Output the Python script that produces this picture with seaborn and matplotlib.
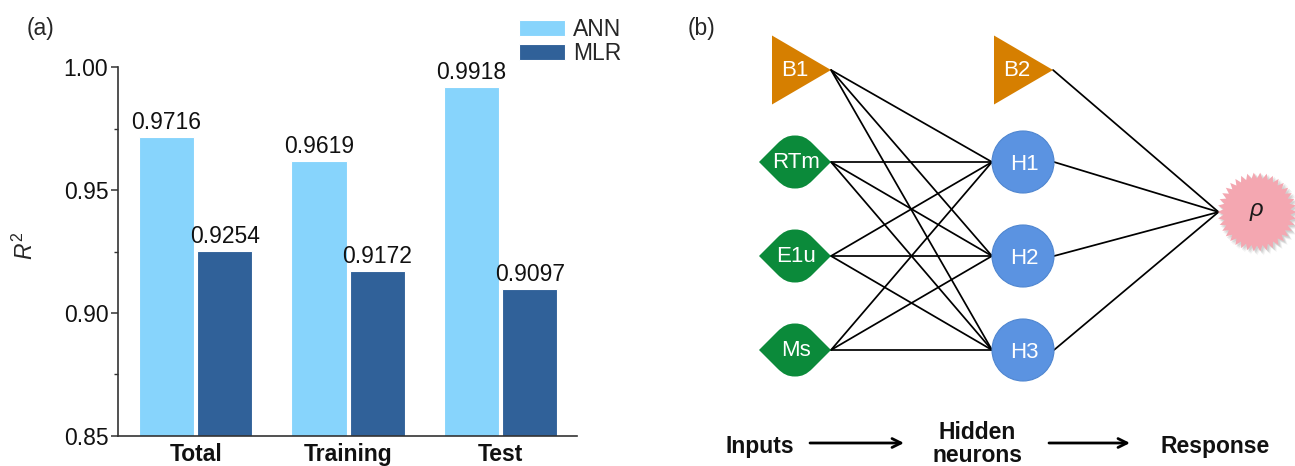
import numpy as np
import pandas as pd
import matplotlib
matplotlib.use("Agg")
import matplotlib.pyplot as plt
from matplotlib.path import Path
from matplotlib.patches import PathPatch, Circle, Polygon
from matplotlib.ticker import MultipleLocator, FormatStrFormatter
import seaborn as sns

# ---- panel (a): coefficient of determination per data subset ----
subsets = ["Total", "Training", "Test"]
models = ["ANN", "MLR"]
ann_r2 = [0.9716, 0.9619, 0.9918]
mlr_r2 = [0.9254, 0.9172, 0.9097]
y_ticks = [0.85, 0.90, 0.95, 1.00]

# ---- panel (b): network topology ----
input_nodes = ["RTm", "E1u", "Ms"]
hidden_nodes = ["H1", "H2", "H3"]
bias_nodes = ["B1", "B2"]
output_node = r"$\rho$"
stage_labels = ["Inputs", "Hidden\nneurons", "Response"]

ANN_COLOR = "#87D4FC"
MLR_COLOR = "#306199"
BIAS_COLOR = "#D67F00"
INPUT_COLOR = "#0B8A3A"
HIDDEN_COLOR = "#5B93E1"
OUTPUT_COLOR = "#F4A7B1"
FS = 16.5

sns.set_theme(style="ticks")
plt.rcParams["font.family"] = ["Liberation Sans", "DejaVu Sans"]
plt.rcParams["mathtext.fontset"] = "custom"
plt.rcParams["mathtext.rm"] = "Liberation Sans"
plt.rcParams["mathtext.it"] = "Liberation Sans:italic"

W, H = 1295, 466
fig = plt.figure(figsize=(W / 100, H / 100), dpi=100)
fig.patch.set_facecolor("white")

# ------------------------------------------------------------------ (a)
ax = fig.add_axes([118 / W, 30 / H, (577 - 118) / W, (436 - 67) / H])
df = pd.DataFrame({
    "subset": subsets * 2,
    "model": [models[0]] * len(subsets) + [models[1]] * len(subsets),
    "r2": ann_r2 + mlr_r2,
})
sns.barplot(data=df, x="subset", y="r2", hue="model", order=subsets,
            hue_order=models, palette=[ANN_COLOR, MLR_COLOR], width=0.763,
            gap=0.05, edgecolor="white", linewidth=0.8, saturation=1,
            errorbar=None, ax=ax)

for cont in ax.containers:
    ax.bar_label(cont, fmt="%.4f", padding=2, fontsize=FS, color="#111111")

ax.set_ylim(y_ticks[0], y_ticks[-1])
ax.set_xlim(-0.509, 2.50)
ax.set_yticks(y_ticks)
ax.yaxis.set_major_formatter(FormatStrFormatter("%.2f"))
ax.yaxis.set_minor_locator(MultipleLocator(0.025))
ax.tick_params(axis="y", which="major", length=5, width=1.1, pad=2,
               labelsize=FS, color="#333333", labelcolor="#111111")
ax.tick_params(axis="y", which="minor", length=3, width=1.0, color="#333333")
ax.tick_params(axis="x", length=0, pad=5, labelsize=FS, labelcolor="#111111")
ax.set_xticks(range(len(subsets)))
ax.set_xticklabels(subsets, fontweight="bold")
ax.set_xlabel("")
ax.set_ylabel(r"$R^2$", fontsize=FS)
ax.yaxis.set_label_coords(-0.175, 0.516)
for s in ["left", "bottom"]:
    ax.spines[s].set_linewidth(1.2)
    ax.spines[s].set_color("#333333")
sns.despine(ax=ax)

handles, labels = ax.get_legend_handles_labels()
ax.legend(handles, labels, loc="upper left",
          bbox_to_anchor=(503 / W, 1 - 2 / H), bbox_transform=fig.transFigure,
          frameon=False, fontsize=FS, handlelength=2.0, handleheight=0.72,
          labelspacing=0.05, handletextpad=0.35, borderpad=0.2)

fig.text(27 / W, 1 - 28 / H, "(a)", fontsize=FS, va="center", ha="left")
fig.text(688 / W, 1 - 28 / H, "(b)", fontsize=FS, va="center", ha="left")

# ------------------------------------------------------------------ (b)
ax2 = fig.add_axes([680 / W, 0, (W - 680) / W, 1])
ax2.set_xlim(680, W)
ax2.set_ylim(H, 0)
ax2.axis("off")

# layout of the drawing (pixel-like units)
col_in, col_hid, col_out = 795, 1023, 1257
row_ys = [162, 256, 350]
bias_y = 70
out_y = 212
leaf_hw, leaf_hh = 36, 26.5
hid_r = 31
tri_w, tri_hh = 59, 34.5
star_r_out, star_r_in, n_spikes = 39.5, 33.5, 38

in_tip = col_in + leaf_hw
hid_left, hid_right = col_hid - hid_r, col_hid + hid_r
out_left = col_out - star_r_out + 1
b1_tip = in_tip
b2_tip = hid_right - 1

line_kw = dict(color="black", lw=1.25, zorder=1, solid_capstyle="round")

# input -> hidden
for yi in row_ys:
    for yh in row_ys:
        ax2.plot([in_tip, hid_left], [yi, yh], **line_kw)
# bias 1 -> hidden
for yh in row_ys:
    ax2.plot([b1_tip, hid_left], [bias_y, yh], **line_kw)
# hidden -> output
for yh in row_ys:
    ax2.plot([hid_right, out_left], [yh, out_y], **line_kw)
# bias 2 -> output
ax2.plot([b2_tip, out_left], [bias_y, out_y], **line_kw)


def leaf_path(cx, cy, hw, hh):
    # rounded rhombus: straight 45-degree flanks at the tips, domed top/bottom
    ex, ey = 0.5, 0.68
    c1x, c1y = ex - 0.5 * 0.35, ey + 0.68 * 0.35
    verts = [
        (-1.0, 0.0), (-ex, -ey),
        (-c1x, -c1y), (-0.2, -1.0), (0.0, -1.0),
        (0.2, -1.0), (c1x, -c1y), (ex, -ey),
        (1.0, 0.0), (ex, ey),
        (c1x, c1y), (0.2, 1.0), (0.0, 1.0),
        (-0.2, 1.0), (-c1x, c1y), (-ex, ey),
        (-1.0, 0.0),
    ]
    codes = [Path.MOVETO, Path.LINETO,
             Path.CURVE4, Path.CURVE4, Path.CURVE4,
             Path.CURVE4, Path.CURVE4, Path.CURVE4,
             Path.LINETO, Path.LINETO,
             Path.CURVE4, Path.CURVE4, Path.CURVE4,
             Path.CURVE4, Path.CURVE4, Path.CURVE4,
             Path.CLOSEPOLY]
    v = [(cx + x * hw, cy + y * hh) for x, y in verts]
    return Path(v, codes)


node_txt = dict(color="white", fontsize=16, ha="center", va="center", zorder=4)

for name, yi in zip(input_nodes, row_ys):
    ax2.add_patch(PathPatch(leaf_path(col_in, yi, leaf_hw, leaf_hh),
                            facecolor=INPUT_COLOR, edgecolor="none", zorder=3))
    ax2.text(col_in + 1, yi + 1, name, **node_txt)

for name, yh in zip(hidden_nodes, row_ys):
    ax2.add_patch(Circle((col_hid, yh), hid_r, facecolor=HIDDEN_COLOR,
                         edgecolor="#4F86D0", lw=0.8, zorder=3))
    ax2.text(col_hid + 1, yh + 2, name, **node_txt)

for name, tip in zip(bias_nodes, [b1_tip, b2_tip]):
    left = tip - tri_w
    ax2.add_patch(Polygon([(left, bias_y - tri_hh), (left, bias_y + tri_hh),
                           (tip, bias_y)], closed=True,
                          facecolor=BIAS_COLOR, edgecolor="none", zorder=3))
    ax2.text(left + tri_w / 3 + 3, bias_y, name, **node_txt)

# output node: spiky star with a soft shadow
ang = np.linspace(0, 2 * np.pi, 2 * n_spikes, endpoint=False)
rad = np.where(np.arange(2 * n_spikes) % 2 == 0, star_r_out, star_r_in)
for dx, dy, a in [(3.5, 3.5, 0.10), (2.5, 2.5, 0.15), (1.5, 1.5, 0.2)]:
    ax2.add_patch(Polygon(np.c_[col_out + dx + (rad + 0.5) * np.cos(ang),
                                out_y + dy + (rad + 0.5) * np.sin(ang)],
                          closed=True, facecolor="#888888", alpha=a,
                          edgecolor="none", zorder=2))
ax2.add_patch(Polygon(np.c_[col_out + rad * np.cos(ang), out_y + rad * np.sin(ang)],
                      closed=True, facecolor=OUTPUT_COLOR, edgecolor="none",
                      zorder=3))
ax2.text(col_out, out_y, output_node, fontsize=17, color="#1a1a1a",
         ha="center", va="center", zorder=4)

# stage captions and arrows
cap_kw = dict(fontsize=FS, fontweight="bold", ha="center", va="center",
              color="#111111")
ax2.text(760, 446, stage_labels[0], **cap_kw)
ax2.text(977, 444, stage_labels[1], linespacing=1.0, **cap_kw)
ax2.text(1215, 446, stage_labels[2], **cap_kw)
arrow_kw = dict(arrowstyle="->", lw=2.0, color="black", mutation_scale=16,
                shrinkA=0, shrinkB=0)
ax2.annotate("", xy=(904, 443), xytext=(810, 443), arrowprops=arrow_kw)
ax2.annotate("", xy=(1130, 443), xytext=(1049, 443), arrowprops=arrow_kw)

fig.savefig("out.png", dpi=100)
